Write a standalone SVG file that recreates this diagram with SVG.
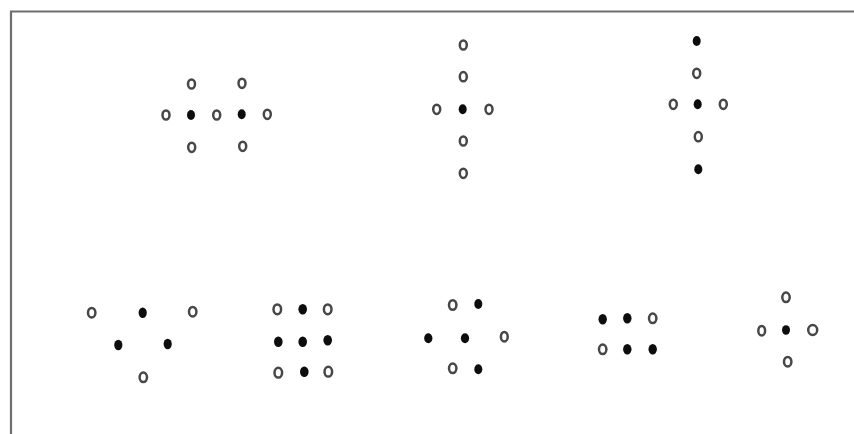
<svg xmlns="http://www.w3.org/2000/svg" width="854" height="434" viewBox="0 0 854 434">
<style>
.o{fill:#fff;stroke:#474747;stroke-width:2.5}
.f{fill:#0d0d0d;stroke:none}
.frame{stroke:#6e6e6e;stroke-width:2.2;fill:none}
</style>
<defs>
<filter id="soft" x="-20%" y="-20%" width="140%" height="140%"><feGaussianBlur stdDeviation="0.5"/></filter>
</defs>
<rect width="854" height="434" fill="#fff"/>
<g id="frame">
<path class="frame" d="M10 11.5 H854 M11 10.5 V434"/>
</g>
<g filter="url(#soft)">
<g id="figure1">
<ellipse class="o" cx="191.5" cy="84" rx="3.5" ry="4.6"/>
<ellipse class="o" cx="242" cy="83.3" rx="3.5" ry="4.6"/>
<ellipse class="o" cx="166" cy="115" rx="3.5" ry="4.6"/>
<ellipse class="f" cx="191" cy="115" rx="4" ry="5"/>
<ellipse class="o" cx="216.7" cy="115" rx="3.5" ry="4.6"/>
<ellipse class="f" cx="241.7" cy="114.3" rx="4" ry="5"/>
<ellipse class="o" cx="267.3" cy="114.3" rx="3.5" ry="4.6"/>
<ellipse class="o" cx="191.7" cy="147.3" rx="3.5" ry="4.6"/>
<ellipse class="o" cx="242.7" cy="146.3" rx="3.5" ry="4.6"/>
</g>
<g id="figure2">
<ellipse class="o" cx="463.3" cy="45" rx="3.5" ry="4.6"/>
<ellipse class="o" cx="463.3" cy="76.7" rx="3.5" ry="4.6"/>
<ellipse class="o" cx="436.7" cy="109.3" rx="3.5" ry="4.6"/>
<ellipse class="f" cx="462.7" cy="109.3" rx="4" ry="5"/>
<ellipse class="o" cx="489" cy="109.3" rx="3.5" ry="4.6"/>
<ellipse class="o" cx="463.3" cy="141" rx="3.5" ry="4.6"/>
<ellipse class="o" cx="463.3" cy="173.3" rx="3.5" ry="4.6"/>
</g>
<g id="figure3">
<ellipse class="f" cx="696.7" cy="41" rx="4" ry="5"/>
<ellipse class="o" cx="696.7" cy="73.3" rx="3.5" ry="4.6"/>
<ellipse class="o" cx="673.3" cy="104.3" rx="3.5" ry="4.6"/>
<ellipse class="f" cx="697.7" cy="104.3" rx="4" ry="5"/>
<ellipse class="o" cx="723.3" cy="104.3" rx="3.5" ry="4.6"/>
<ellipse class="o" cx="698.3" cy="136.7" rx="3.5" ry="4.6"/>
<ellipse class="f" cx="698.3" cy="169.3" rx="4" ry="5"/>
</g>
<g id="figure4">
<ellipse class="o" cx="91.7" cy="312.7" rx="3.7" ry="4.8"/>
<ellipse class="f" cx="142.7" cy="312.7" rx="4.1" ry="5.2"/>
<ellipse class="o" cx="192.7" cy="311.7" rx="3.7" ry="4.8"/>
<ellipse class="f" cx="118.3" cy="345" rx="4.1" ry="5.2"/>
<ellipse class="f" cx="167.7" cy="344" rx="4.1" ry="5.2"/>
<ellipse class="o" cx="143.3" cy="377.3" rx="3.7" ry="4.8"/>
</g>
<g id="figure5">
<ellipse class="o" cx="277.3" cy="309.3" rx="3.8" ry="4.9"/>
<ellipse class="f" cx="302.7" cy="309.3" rx="4.3" ry="5.3"/>
<ellipse class="o" cx="327.7" cy="309.3" rx="3.8" ry="4.9"/>
<ellipse class="f" cx="278.3" cy="341.7" rx="4.3" ry="5.3"/>
<ellipse class="f" cx="302.7" cy="341.7" rx="4.3" ry="5.3"/>
<ellipse class="f" cx="327.7" cy="340.3" rx="4.3" ry="5.3"/>
<ellipse class="o" cx="278.3" cy="372.7" rx="3.8" ry="4.9"/>
<ellipse class="f" cx="304.3" cy="371.7" rx="4.3" ry="5.3"/>
<ellipse class="o" cx="328.3" cy="371.7" rx="3.8" ry="4.9"/>
</g>
<g id="figure6">
<ellipse class="o" cx="452.7" cy="305" rx="3.7" ry="4.8"/>
<ellipse class="f" cx="478.3" cy="304" rx="4" ry="5"/>
<ellipse class="f" cx="428.3" cy="338.3" rx="4.1" ry="5"/>
<ellipse class="f" cx="465" cy="338.3" rx="4.1" ry="5"/>
<ellipse class="o" cx="504.3" cy="336.7" rx="3.4" ry="4.8"/>
<ellipse class="o" cx="452.7" cy="368.3" rx="3.7" ry="4.8"/>
<ellipse class="f" cx="478.3" cy="369.3" rx="4" ry="5"/>
</g>
<g id="figure7">
<ellipse class="f" cx="602.7" cy="319.3" rx="4.2" ry="5.3"/>
<ellipse class="f" cx="627.3" cy="318.3" rx="4.2" ry="5.3"/>
<ellipse class="o" cx="652.7" cy="318.3" rx="3.7" ry="4.8"/>
<ellipse class="o" cx="602.7" cy="349.3" rx="3.7" ry="4.8"/>
<ellipse class="f" cx="627.3" cy="349.3" rx="4.2" ry="5.3"/>
<ellipse class="f" cx="652.7" cy="349.3" rx="4.2" ry="5.3"/>
</g>
<g id="figure8">
<ellipse class="o" cx="786" cy="297.3" rx="3.7" ry="4.8"/>
<ellipse class="o" cx="761.7" cy="330.7" rx="3.4" ry="4.8"/>
<ellipse class="f" cx="786" cy="330" rx="4" ry="4.8"/>
<ellipse class="o" cx="812.7" cy="330" rx="4.5" ry="5"/>
<ellipse class="o" cx="787.7" cy="361.7" rx="3.7" ry="4.8"/>
</g>
</g>
</svg>
